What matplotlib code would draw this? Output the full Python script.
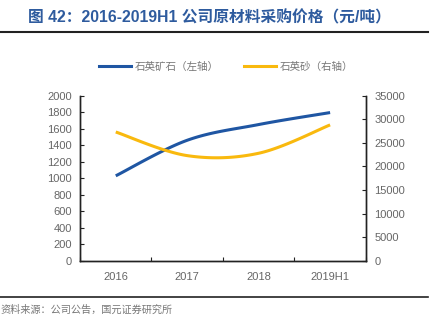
import numpy as np
import matplotlib
matplotlib.use("Agg")
import matplotlib.pyplot as plt
from matplotlib.lines import Line2D

plt.rcParams['font.family'] = ['Liberation Sans', 'Noto Sans CJK SC', 'DejaVu Sans']

categories = ["2016", "2017", "2018", "2019H1"]
quartz_ore = [1030, 1460, 1650, 1795]          # 石英矿石, left axis
quartz_sand = [27300, 22300, 22800, 28800]     # 石英砂, right axis
left_ticks = list(range(0, 2001, 200))
right_ticks = list(range(0, 35001, 5000))

BLUE = "#1F56A3"
GOLD = "#F9B90E"
GRAY = "#666666"


def smooth(xs, ys, n=40):
    """Bezier smoothing through every point (tension 1/6)."""
    xs = np.asarray(xs, float)
    ys = np.asarray(ys, float)
    px = np.concatenate([[xs[0]], xs, [xs[-1]]])
    py = np.concatenate([[ys[0]], ys, [ys[-1]]])
    ox, oy = [], []
    t = np.linspace(0, 1, n)
    for i in range(1, len(px) - 2):
        p0 = np.array([px[i], py[i]])
        p3 = np.array([px[i + 1], py[i + 1]])
        c1 = p0 + (np.array([px[i + 1], py[i + 1]]) - np.array([px[i - 1], py[i - 1]])) / 6
        c2 = p3 - (np.array([px[i + 2], py[i + 2]]) - np.array([px[i], py[i]])) / 6
        b = ((1 - t) ** 3)[:, None] * p0 + (3 * (1 - t) ** 2 * t)[:, None] * c1 \
            + (3 * (1 - t) * t ** 2)[:, None] * c2 + (t ** 3)[:, None] * p3
        ox.extend(b[:, 0]); oy.extend(b[:, 1])
    return np.array(ox), np.array(oy)


fig = plt.figure(figsize=(4.35, 3.23), dpi=100)
ax = fig.add_axes([0.184, 0.192, 0.657, 0.512])
ax2 = ax.twinx()

x = np.arange(len(categories))
sx, sy = smooth(x, quartz_ore)
ax.plot(sx, sy, color=BLUE, lw=2.2, solid_capstyle='butt')
sx2, sy2 = smooth(x, quartz_sand)
ax2.plot(sx2, sy2, color=GOLD, lw=2.2, solid_capstyle='butt')

ax.set_xlim(-0.5, len(categories) - 0.5)
ax.set_ylim(0, 2000)
ax2.set_ylim(0, 35000)
ax.set_yticks(left_ticks)
ax2.set_yticks(right_ticks)
ax.set_xticks(np.arange(len(categories) + 1) - 0.5)
ax.set_xticklabels([])
ax.set_xticks(x, minor=True)
ax.set_xticklabels(categories, minor=True)

for a in (ax, ax2):
    a.spines['top'].set_visible(False)
    for s in ('left', 'right', 'bottom'):
        a.spines[s].set_color('#222222')
        a.spines[s].set_linewidth(1.0)
ax.tick_params(axis='y', direction='in', length=3, labelsize=8, colors='#222222', labelcolor=GRAY, pad=6)
ax2.tick_params(axis='y', direction='in', length=3, labelsize=8, colors='#222222', labelcolor=GRAY, pad=6)
ax.tick_params(axis='x', which='major', direction='in', length=3, color='#222222')
ax.tick_params(axis='x', which='minor', length=0, labelsize=8, labelcolor=GRAY, pad=8)

# legend
handles = [Line2D([], [], color=BLUE, lw=2.2), Line2D([], [], color=GOLD, lw=2.2)]
fig.legend(handles, ["石英矿石（左轴）", "石英砂（右轴）"], loc='center',
           bbox_to_anchor=(0.52, 0.793), ncol=2, frameon=False,
           handlelength=3.0, columnspacing=2.4, handletextpad=0.35,
           labelcolor="#777777", prop={'family': ['Noto Sans CJK SC'], 'size': 7.6})

# title and rules
fig.text(0.064, 0.945, "图 42：2016-2019H1 公司原材料采购价格（元/吨）", color="#2E5B9E",
         fontsize=11.3, fontweight='bold', va='center', ha='left',
         family=['Liberation Sans', 'Noto Sans CJK SC'])
fig.add_artist(Line2D([0.0, 0.985], [0.9, 0.9], color='#222222', lw=1.5))
fig.add_artist(Line2D([0.0, 0.985], [0.08, 0.08], color='#222222', lw=1.2))
fig.text(0.0, 0.04, "资料来源：公司公告，国元证券研究所", color="#777777", fontsize=7.3,
         va='center', ha='left', family=['Noto Sans CJK SC'])

fig.savefig("out.png", dpi=100)
